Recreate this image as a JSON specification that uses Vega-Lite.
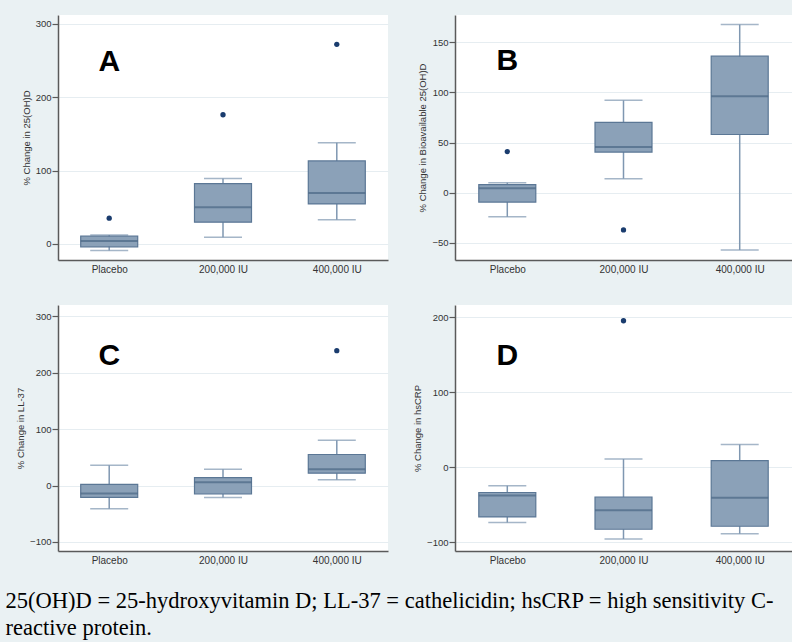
{
  "$schema": "https://vega.github.io/schema/vega-lite/v6.json",
  "background": "#eaf1f3",
  "padding": {"left": 5, "top": 15, "right": 0, "bottom": 5},
  "config": {
    "view": {"fill": "white", "stroke": null},
    "axis": {"domainColor": "#5a5a5a", "domainWidth": 1.5, "tickColor": "#5a5a5a", "tickWidth": 1.2, "labelFont": "Liberation Sans", "labelColor": "#333", "titleFont": "Liberation Sans", "titleFontSize": 9.5, "titleFontWeight": "normal", "titleColor": "#333", "gridColor": "#e6edf1", "gridWidth": 1},
    "axisY": {"grid": true, "tickSize": 6, "labelPadding": 1, "labelFontSize": 9.5, "titlePadding": 4},
    "axisX": {"grid": false, "ticks": false, "tickSize": 0, "labelAngle": 0, "labelPadding": 4, "labelFontSize": 10}
  },
  "title": {
    "text": ["25(OH)D = 25-hydroxyvitamin D; LL-37 = cathelicidin; hsCRP = high sensitivity C-", "reactive protein."],
    "orient": "bottom", "anchor": "start", "frame": "bounds", "dx": -10, "offset": 25,
    "font": "Liberation Serif", "fontSize": 22.5, "fontWeight": "normal", "lineHeight": 27, "color": "#000"
  },
  "datasets": {
    "boxes": [
      {"panel": "A", "group": "Placebo", "lo": -9, "q1": -4, "med": 4, "q3": 10.5, "hi": 12},
      {"panel": "A", "group": "200,000 IU", "lo": 9, "q1": 29.5, "med": 50, "q3": 82, "hi": 89},
      {"panel": "A", "group": "400,000 IU", "lo": 33, "q1": 54.5, "med": 69.5, "q3": 113, "hi": 138},
      {"panel": "B", "group": "Placebo", "lo": -24, "q1": -9.3, "med": 4.5, "q3": 8, "hi": 10},
      {"panel": "B", "group": "200,000 IU", "lo": 14, "q1": 40.5, "med": 45.5, "q3": 70, "hi": 92},
      {"panel": "B", "group": "400,000 IU", "lo": -57, "q1": 58, "med": 96, "q3": 136, "hi": 167.5},
      {"panel": "C", "group": "Placebo", "lo": -41, "q1": -21, "med": -14, "q3": 2, "hi": 36},
      {"panel": "C", "group": "200,000 IU", "lo": -21, "q1": -15, "med": 6, "q3": 14, "hi": 29},
      {"panel": "C", "group": "400,000 IU", "lo": 10.5, "q1": 22, "med": 29, "q3": 55, "hi": 80.5},
      {"panel": "D", "group": "Placebo", "lo": -74, "q1": -66.5, "med": -38, "q3": -34, "hi": -25},
      {"panel": "D", "group": "200,000 IU", "lo": -96, "q1": -83, "med": -57.5, "q3": -40, "hi": 10.6},
      {"panel": "D", "group": "400,000 IU", "lo": -89, "q1": -79, "med": -41, "q3": 8.4, "hi": 30}
    ],
    "outliers": [
      {"panel": "A", "group": "Placebo", "v": 35},
      {"panel": "A", "group": "200,000 IU", "v": 176},
      {"panel": "A", "group": "400,000 IU", "v": 272},
      {"panel": "B", "group": "Placebo", "v": 41},
      {"panel": "B", "group": "200,000 IU", "v": -37},
      {"panel": "C", "group": "400,000 IU", "v": 239},
      {"panel": "D", "group": "200,000 IU", "v": 195}
    ],
    "letters": [
      {"panel": "A", "group": "Placebo", "letter": "A", "v": 235},
      {"panel": "B", "group": "Placebo", "letter": "B", "v": 122},
      {"panel": "C", "group": "Placebo", "letter": "C", "v": 213},
      {"panel": "D", "group": "Placebo", "letter": "D", "v": 136}
    ]
  },
  "columns": 2,
  "bounds": "flush",
  "spacing": {"row": 45, "column": 67},
  "concat": [
    {
      "width": 330, "height": 245,
      "encoding": {"x": {"field": "group", "type": "nominal", "sort": ["Placebo", "200,000 IU", "400,000 IU"], "scale": {"type": "point", "padding": 0.45}, "axis": {"title": null}}},
      "layer": [
        {"data": {"name": "boxes"}, "transform": [{"filter": "datum.panel === 'A'"}],
         "mark": {"type": "rule", "color": "#7f97b1", "strokeWidth": 1.5},
         "encoding": {"y": {"field": "lo", "type": "quantitative", "scale": {"domain": [-22, 312], "nice": false, "zero": false}, "axis": {"values": [0, 100, 200, 300], "title": "% Change in 25(OH)D"}}, "y2": {"field": "hi"}}},
        {"data": {"name": "boxes"}, "transform": [{"filter": "datum.panel === 'A'"}, {"fold": ["lo", "hi"], "as": ["k", "v"]}],
         "mark": {"type": "tick", "color": "#7f97b1", "size": 38, "thickness": 1.5},
         "encoding": {"y": {"field": "v", "type": "quantitative"}}},
        {"data": {"name": "boxes"}, "transform": [{"filter": "datum.panel === 'A'"}],
         "mark": {"type": "bar", "size": 57, "fill": "#8ba1b8", "stroke": "#5b7795", "strokeWidth": 1.2},
         "encoding": {"y": {"field": "q1", "type": "quantitative"}, "y2": {"field": "q3"}}},
        {"data": {"name": "boxes"}, "transform": [{"filter": "datum.panel === 'A'"}],
         "mark": {"type": "tick", "size": 57, "thickness": 2, "color": "#4a6684"},
         "encoding": {"y": {"field": "med", "type": "quantitative"}}},
        {"data": {"name": "outliers"}, "transform": [{"filter": "datum.panel === 'A'"}],
         "mark": {"type": "point", "filled": true, "size": 28, "color": "#1a3c6e", "opacity": 1},
         "encoding": {"y": {"field": "v", "type": "quantitative"}}},
        {"data": {"name": "letters"}, "transform": [{"filter": "datum.panel === 'A'"}],
         "mark": {"type": "text", "font": "Liberation Sans", "fontSize": 30, "fontWeight": "bold", "baseline": "alphabetic", "color": "#000"},
         "encoding": {"y": {"field": "v", "type": "quantitative"}, "text": {"field": "letter"}}}
      ]
    },
    {
      "width": 337, "height": 245,
      "encoding": {"x": {"field": "group", "type": "nominal", "sort": ["Placebo", "200,000 IU", "400,000 IU"], "scale": {"type": "point", "padding": 0.45}, "axis": {"title": null}}},
      "layer": [
        {"data": {"name": "boxes"}, "transform": [{"filter": "datum.panel === 'B'"}],
         "mark": {"type": "rule", "color": "#7f97b1", "strokeWidth": 1.5},
         "encoding": {"y": {"field": "lo", "type": "quantitative", "scale": {"domain": [-67, 177], "nice": false, "zero": false}, "axis": {"values": [-50, 0, 50, 100, 150], "title": "% Change in Bioavailable 25(OH)D"}}, "y2": {"field": "hi"}}},
        {"data": {"name": "boxes"}, "transform": [{"filter": "datum.panel === 'B'"}, {"fold": ["lo", "hi"], "as": ["k", "v"]}],
         "mark": {"type": "tick", "color": "#7f97b1", "size": 38, "thickness": 1.5},
         "encoding": {"y": {"field": "v", "type": "quantitative"}}},
        {"data": {"name": "boxes"}, "transform": [{"filter": "datum.panel === 'B'"}],
         "mark": {"type": "bar", "size": 57, "fill": "#8ba1b8", "stroke": "#5b7795", "strokeWidth": 1.2},
         "encoding": {"y": {"field": "q1", "type": "quantitative"}, "y2": {"field": "q3"}}},
        {"data": {"name": "boxes"}, "transform": [{"filter": "datum.panel === 'B'"}],
         "mark": {"type": "tick", "size": 57, "thickness": 2, "color": "#4a6684"},
         "encoding": {"y": {"field": "med", "type": "quantitative"}}},
        {"data": {"name": "outliers"}, "transform": [{"filter": "datum.panel === 'B'"}],
         "mark": {"type": "point", "filled": true, "size": 28, "color": "#1a3c6e", "opacity": 1},
         "encoding": {"y": {"field": "v", "type": "quantitative"}}},
        {"data": {"name": "letters"}, "transform": [{"filter": "datum.panel === 'B'"}],
         "mark": {"type": "text", "font": "Liberation Sans", "fontSize": 30, "fontWeight": "bold", "baseline": "alphabetic", "color": "#000"},
         "encoding": {"y": {"field": "v", "type": "quantitative"}, "text": {"field": "letter"}}}
      ]
    },
    {
      "width": 330, "height": 246,
      "encoding": {"x": {"field": "group", "type": "nominal", "sort": ["Placebo", "200,000 IU", "400,000 IU"], "scale": {"type": "point", "padding": 0.45}, "axis": {"title": null}}},
      "layer": [
        {"data": {"name": "boxes"}, "transform": [{"filter": "datum.panel === 'C'"}],
         "mark": {"type": "rule", "color": "#7f97b1", "strokeWidth": 1.5},
         "encoding": {"y": {"field": "lo", "type": "quantitative", "scale": {"domain": [-116, 320], "nice": false, "zero": false}, "axis": {"values": [-100, 0, 100, 200, 300], "title": "% Change in LL-37"}}, "y2": {"field": "hi"}}},
        {"data": {"name": "boxes"}, "transform": [{"filter": "datum.panel === 'C'"}, {"fold": ["lo", "hi"], "as": ["k", "v"]}],
         "mark": {"type": "tick", "color": "#7f97b1", "size": 38, "thickness": 1.5},
         "encoding": {"y": {"field": "v", "type": "quantitative"}}},
        {"data": {"name": "boxes"}, "transform": [{"filter": "datum.panel === 'C'"}],
         "mark": {"type": "bar", "size": 57, "fill": "#8ba1b8", "stroke": "#5b7795", "strokeWidth": 1.2},
         "encoding": {"y": {"field": "q1", "type": "quantitative"}, "y2": {"field": "q3"}}},
        {"data": {"name": "boxes"}, "transform": [{"filter": "datum.panel === 'C'"}],
         "mark": {"type": "tick", "size": 57, "thickness": 2, "color": "#4a6684"},
         "encoding": {"y": {"field": "med", "type": "quantitative"}}},
        {"data": {"name": "outliers"}, "transform": [{"filter": "datum.panel === 'C'"}],
         "mark": {"type": "point", "filled": true, "size": 28, "color": "#1a3c6e", "opacity": 1},
         "encoding": {"y": {"field": "v", "type": "quantitative"}}},
        {"data": {"name": "letters"}, "transform": [{"filter": "datum.panel === 'C'"}],
         "mark": {"type": "text", "font": "Liberation Sans", "fontSize": 30, "fontWeight": "bold", "baseline": "alphabetic", "color": "#000"},
         "encoding": {"y": {"field": "v", "type": "quantitative"}, "text": {"field": "letter"}}}
      ]
    },
    {
      "width": 337, "height": 246,
      "encoding": {"x": {"field": "group", "type": "nominal", "sort": ["Placebo", "200,000 IU", "400,000 IU"], "scale": {"type": "point", "padding": 0.45}, "axis": {"title": null}}},
      "layer": [
        {"data": {"name": "boxes"}, "transform": [{"filter": "datum.panel === 'D'"}],
         "mark": {"type": "rule", "color": "#7f97b1", "strokeWidth": 1.5},
         "encoding": {"y": {"field": "lo", "type": "quantitative", "scale": {"domain": [-112, 216], "nice": false, "zero": false}, "axis": {"values": [-100, 0, 100, 200], "title": "% Change in hsCRP"}}, "y2": {"field": "hi"}}},
        {"data": {"name": "boxes"}, "transform": [{"filter": "datum.panel === 'D'"}, {"fold": ["lo", "hi"], "as": ["k", "v"]}],
         "mark": {"type": "tick", "color": "#7f97b1", "size": 38, "thickness": 1.5},
         "encoding": {"y": {"field": "v", "type": "quantitative"}}},
        {"data": {"name": "boxes"}, "transform": [{"filter": "datum.panel === 'D'"}],
         "mark": {"type": "bar", "size": 57, "fill": "#8ba1b8", "stroke": "#5b7795", "strokeWidth": 1.2},
         "encoding": {"y": {"field": "q1", "type": "quantitative"}, "y2": {"field": "q3"}}},
        {"data": {"name": "boxes"}, "transform": [{"filter": "datum.panel === 'D'"}],
         "mark": {"type": "tick", "size": 57, "thickness": 2, "color": "#4a6684"},
         "encoding": {"y": {"field": "med", "type": "quantitative"}}},
        {"data": {"name": "outliers"}, "transform": [{"filter": "datum.panel === 'D'"}],
         "mark": {"type": "point", "filled": true, "size": 28, "color": "#1a3c6e", "opacity": 1},
         "encoding": {"y": {"field": "v", "type": "quantitative"}}},
        {"data": {"name": "letters"}, "transform": [{"filter": "datum.panel === 'D'"}],
         "mark": {"type": "text", "font": "Liberation Sans", "fontSize": 30, "fontWeight": "bold", "baseline": "alphabetic", "color": "#000"},
         "encoding": {"y": {"field": "v", "type": "quantitative"}, "text": {"field": "letter"}}}
      ]
    }
  ]
}
